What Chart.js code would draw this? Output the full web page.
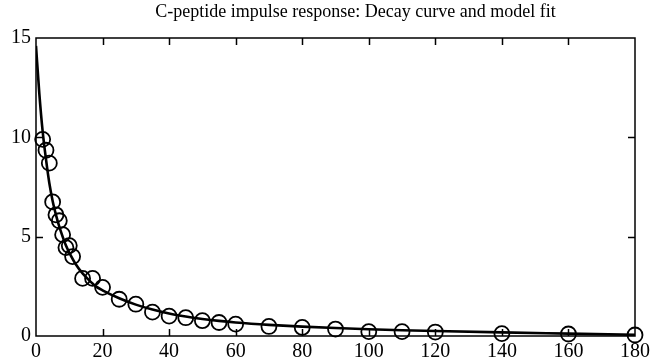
<!DOCTYPE html>
<html>
<head>
<meta charset="utf-8">
<script src="https://cdn.jsdelivr.net/npm/chart.js@4/dist/chart.umd.min.js"></script>
<style>
  html, body { margin: 0; padding: 0; background: #fff; }
  #wrap { width: 654px; height: 361px; }
</style>
</head>
<body>
<div id="wrap"><canvas id="ch"></canvas></div>
<script>
// Measured C-peptide samples (time in min, concentration)
const sampleTimes = [2, 3, 4, 5, 6, 7, 8, 9, 10, 11, 14, 17, 20, 25, 30, 35, 40, 45, 50, 55,
  60, 70, 80, 90, 100, 110, 120, 140, 160, 180];
const sampleValues = [9.9, 9.35, 8.7, 6.75, 6.1, 5.8, 5.1, 4.45, 4.55, 4.0, 2.9, 2.9, 2.45, 1.85, 1.6, 1.2, 1.0, 0.92, 0.77, 0.68,
  0.6, 0.48, 0.43, 0.35, 0.22, 0.22, 0.2, 0.12, 0.1, 0.05];

// Model fit curve
const fitTimes = [0, 1, 2, 3, 4, 5, 6, 7, 8, 9, 10, 12, 14, 16, 18, 20, 25, 30, 35, 40, 45, 50, 55,
  60, 70, 80, 90, 100, 110, 120, 140, 160, 180];
const fitValues = [14.6, 12.2, 10.3, 8.9, 7.7, 6.8, 6.1, 5.5, 5.0, 4.55, 4.2, 3.6, 3.15, 2.8, 2.5, 2.3, 1.9, 1.58, 1.33, 1.13, 0.98, 0.86, 0.76,
  0.68, 0.56, 0.47, 0.40, 0.34, 0.29, 0.25, 0.18, 0.12, 0.06];

const xTicks = [0, 20, 40, 60, 80, 100, 120, 140, 160, 180];
const yTicks = [0, 5, 10, 15];
const title = 'C-peptide impulse response: Decay curve and model fit';

const SERIF = "'Liberation Serif', 'DejaVu Serif', serif";

// Frame box plus inward tick marks on all four sides; title sits a bit right of centre.
const frame = {
  id: 'frame',
  afterDatasetsDraw(chart) {
    const { ctx, chartArea: a, scales: { x, y } } = chart;
    const L = 7;
    ctx.save();
    ctx.strokeStyle = '#000';
    ctx.lineWidth = 1.5;
    ctx.strokeRect(a.left, a.top, a.right - a.left, a.bottom - a.top);
    ctx.beginPath();
    xTicks.slice(1, -1).forEach(v => {
      const px = Math.round(x.getPixelForValue(v)) + 0.5;
      ctx.moveTo(px, a.bottom); ctx.lineTo(px, a.bottom - L);
      ctx.moveTo(px, a.top); ctx.lineTo(px, a.top + L);
    });
    yTicks.slice(1, -1).forEach(v => {
      const py = Math.round(y.getPixelForValue(v)) + 0.5;
      ctx.moveTo(a.left, py); ctx.lineTo(a.left + L, py);
      ctx.moveTo(a.right, py); ctx.lineTo(a.right - L, py);
    });
    ctx.stroke();

    ctx.fillStyle = '#000';
    ctx.font = `18px ${SERIF}`;
    ctx.textAlign = 'center';
    ctx.textBaseline = 'middle';
    ctx.fillText(title, x.getPixelForValue(96), 12.5);
    ctx.restore();
  },
};

new Chart(document.getElementById('ch'), {
  type: 'scatter',
  data: {
    datasets: [
      {
        label: 'fit',
        data: fitTimes.map((t, i) => ({ x: t, y: fitValues[i] })),
        showLine: true,
        borderColor: '#000',
        borderWidth: 2.6,
        pointRadius: 0,
        cubicInterpolationMode: 'monotone',
      },
      {
        label: 'data',
        data: sampleTimes.map((t, i) => ({ x: t, y: sampleValues[i] })),
        showLine: false,
        pointStyle: 'circle',
        pointRadius: 7.5,
        borderColor: '#000',
        borderWidth: 1.8,
        backgroundColor: 'rgba(0,0,0,0)',
        clip: false,
      },
    ],
  },
  options: {
    responsive: true,
    maintainAspectRatio: false,
    animation: false,
    layout: { padding: { top: 38, right: 17, left: 0, bottom: 0 } },
    plugins: {
      legend: { display: false },
      tooltip: { enabled: false },
      title: { display: false },
    },
    scales: {
      x: {
        type: 'linear', min: 0, max: 180,
        grid: { display: false, drawTicks: false },
        border: { display: false },
        afterBuildTicks: s => { s.ticks = xTicks.map(v => ({ value: v })); },
        afterFit: s => { s.height = 25; },
        ticks: { color: '#000', padding: 4, maxRotation: 0, font: { family: SERIF, size: 20 } },
      },
      y: {
        type: 'linear', min: 0, max: 15,
        grid: { display: false, drawTicks: false },
        border: { display: false },
        afterBuildTicks: s => { s.ticks = yTicks.map(v => ({ value: v })); },
        afterFit: s => { s.width = 36; },
        ticks: { color: '#000', padding: 5, font: { family: SERIF, size: 20 } },
      },
    },
  },
  plugins: [frame],
});
</script>
</body>
</html>
